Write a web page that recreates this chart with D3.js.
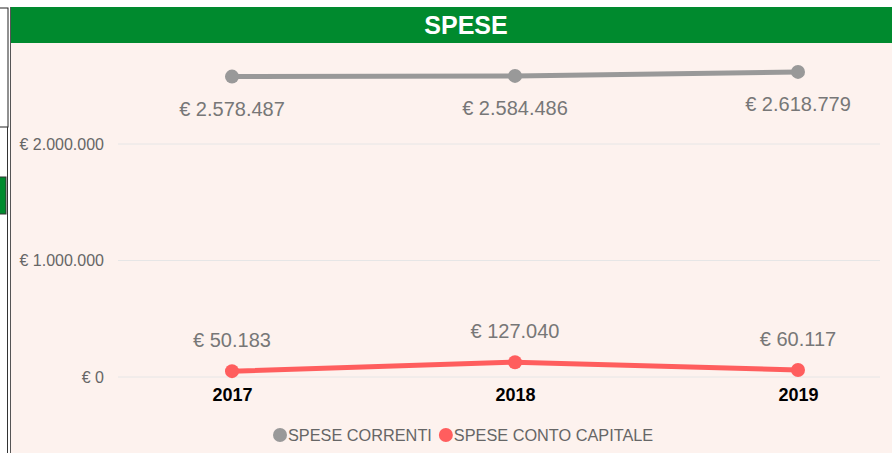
<!DOCTYPE html>
<html>
<head>
<meta charset="utf-8">
<script src="https://cdn.jsdelivr.net/npm/d3@7"></script>
<style>
  body { margin: 0; background: #fff; font-family: "Liberation Sans", Arial, sans-serif; }
</style>
</head>
<body>
<div class="chartDiv"></div>
<script>
// Spese chart

const years = ["2017", "2018", "2019"];
const speseCorrenti = [2578487, 2584486, 2618779];
const speseCapitale = [50183, 127040, 60117];
const yTicks = [0, 1000000, 2000000];
const seriesNames = ["SPESE CORRENTI", "SPESE CONTO CAPITALE"];
const seriesColors = ["#999999", "#ff5e5e"];

let svgWidth = 892;
let svgHeight = 453;

let svg = d3.select('.chartDiv')
            .append('svg')
            .attr('width', svgWidth)
            .attr('height', svgHeight);

// left side bits of the page around the chart
svg.append('rect').attr('x', -2).attr('y', 8).attr('width', 10).attr('height', 119)
   .attr('fill', '#fff').attr('stroke', '#222').attr('stroke-width', 1);
svg.append('rect').attr('x', -2).attr('y', 177).attr('width', 8).attr('height', 37)
   .attr('fill', '#008a2e').attr('stroke', '#333').attr('stroke-width', 1);
svg.append('line').attr('x1', 7.5).attr('x2', 7.5).attr('y1', 127).attr('y2', 453)
   .attr('stroke', '#333');

// panel
svg.append('rect').attr('x', 10).attr('y', 7).attr('width', 882).attr('height', 446)
   .attr('fill', '#fdf2ee');
svg.append('line').attr('x1', 10.5).attr('x2', 10.5).attr('y1', 7).attr('y2', 453)
   .attr('stroke', '#555');
svg.append('rect').attr('x', 11).attr('y', 7).attr('width', 881).attr('height', 36)
   .attr('fill', '#008a2e');
svg.append('text').attr('x', 466).attr('y', 34)
   .attr('text-anchor', 'middle').attr('fill', '#fff')
   .style('font-size', '25px').style('font-weight', 'bold')
   .text('SPESE');

// scales
let xScale = d3.scalePoint()
               .domain(years)
               .range([232, 798]);

let yScale = d3.scaleLinear()
               .domain([0, 2000000])
               .range([377, 144]);

let fmt = v => '€ ' + d3.format(',')(v).replace(/,/g, '.');

// gridlines
svg.append('g')
   .selectAll('line')
   .data(yTicks)
   .join('line')
   .attr('x1', 118).attr('x2', 880)
   .attr('y1', d => yScale(d)).attr('y2', d => yScale(d))
   .attr('stroke', '#e6e6e6').attr('stroke-width', 1);

let leftaxis = d3.axisLeft(yScale)
                 .tickValues(yTicks)
                 .tickSize(0)
                 .tickPadding(14)
                 .tickFormat(fmt);

let yAxisG = svg.append('g')
                .attr('transform', 'translate(118, 0)')
                .call(leftaxis);
yAxisG.select('.domain').remove();
yAxisG.attr('font-size', null).attr('font-family', null);
yAxisG.selectAll('text').attr('fill', '#666').style('font-size', '16px')
      .style('font-family', '"Liberation Sans", Arial, sans-serif');

let bottomaxis = d3.axisBottom(xScale).tickSize(0).tickPadding(11);
let xAxisG = svg.append('g')
                .attr('transform', `translate(0, ${yScale(0)})`)
                .call(bottomaxis);
xAxisG.select('.domain').remove();
xAxisG.selectAll('text').attr('fill', '#000').style('font-size', '18px')
      .style('font-weight', 'bold')
      .style('font-family', '"Liberation Sans", Arial, sans-serif');

let line = d3.line()
             .x((d, i) => xScale(years[i]))
             .y(d => yScale(d));

[speseCorrenti, speseCapitale].forEach((values, k) => {
  svg.append('path')
     .datum(values)
     .attr('d', line)
     .attr('fill', 'none')
     .attr('stroke', seriesColors[k])
     .attr('stroke-width', 5);

  svg.append('g')
     .selectAll('circle')
     .data(values)
     .join('circle')
     .attr('cx', (d, i) => xScale(years[i]))
     .attr('cy', d => yScale(d))
     .attr('r', 7)
     .attr('fill', seriesColors[k]);

  // labels: below for the grey line, above for the red one
  svg.append('g')
     .selectAll('text')
     .data(values)
     .join('text')
     .attr('x', (d, i) => xScale(years[i]))
     .attr('y', d => k === 0 ? yScale(d) + 39 : yScale(d) - 24)
     .attr('text-anchor', 'middle')
     .attr('fill', '#777')
     .style('font-size', '20px')
     .text(d => fmt(d));
});

// legend
let legend = svg.append('g').attr('transform', 'translate(280, 435)');
let lx = 0;
seriesNames.forEach((name, k) => {
  let g = legend.append('g').attr('transform', `translate(${lx}, 0)`);
  g.append('circle').attr('cx', 0).attr('cy', 0).attr('r', 7).attr('fill', seriesColors[k]);
  let t = g.append('text').attr('x', 8).attr('y', 5.5)
           .attr('fill', '#666').style('font-size', '16.3px').text(name);
  lx += 8 + t.node().getComputedTextLength() + 14;
});
</script>
</body>
</html>
